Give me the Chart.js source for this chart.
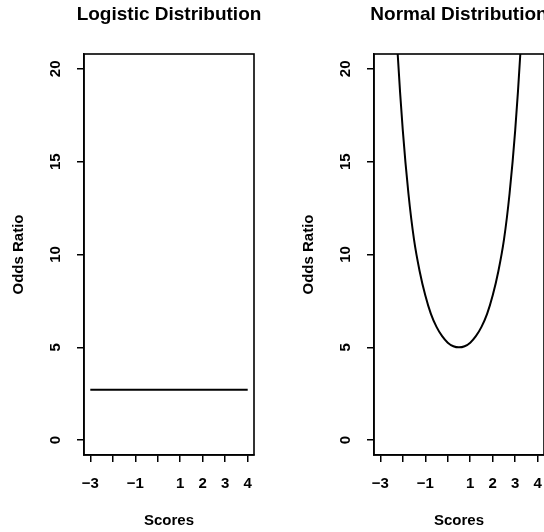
<!DOCTYPE html>
<html>
<head>
<meta charset="utf-8">
<title>Odds Ratio by Score</title>
<script src="https://cdn.jsdelivr.net/npm/chart.js@4/dist/chart.umd.min.js"></script>
<style>
  html, body { margin: 0; padding: 0; background: #fff; }
  body { position: relative; width: 544px; height: 532px; overflow: hidden; }
  .panel { position: absolute; top: 0; }
  #logisticChart { left: 0; }
  #normalChart { left: 290px; }
</style>
</head>
<body>
<canvas id="logisticChart" class="panel" width="338" height="532"></canvas>
<canvas id="normalChart" class="panel" width="338" height="532"></canvas>
<script>
'use strict';

// ── Data ──────────────────────────────────────────────────────────────────────
const xTicks = [-3, -2, -1, 0, 1, 2, 3, 4];
const xTickLabels = ['\u22123', '', '\u22121', '', '1', '2', '3', '4'];
const yTicks = [0, 5, 10, 15, 20];

// logistic: constant odds ratio across scores
const logisticScores = [-3, -2, -1, 0, 1, 2, 3, 4];
const logisticOdds = [2.72, 2.72, 2.72, 2.72, 2.72, 2.72, 2.72, 2.72];

// normal: odds ratio dips to 5 near 0.5 and climbs off the top on both sides
const normalScores = [-2.5, -2.25, -2, -1.75, -1.5, -1.25, -1, -0.75, -0.5, -0.25, 0, 0.25,
  0.5, 0.75, 1, 1.25, 1.5, 1.75, 2, 2.25, 2.5, 2.75, 3, 3.25, 3.5];
const normalOdds = [27.5, 21.3, 16.7, 13.3, 10.8, 9.1, 7.8, 6.8, 6.1, 5.6, 5.25, 5.06,
  5.0, 5.06, 5.25, 5.6, 6.1, 6.8, 7.8, 9.1, 10.8, 13.3, 16.7, 21.3, 27.5];

// axis ranges (data range padded 4% each side)
const X_MIN = -3.28, X_MAX = 4.28;
const Y_MIN = -0.8, Y_MAX = 20.8;

// ── Style ─────────────────────────────────────────────────────────────────────
const FONT = '"Liberation Sans", Arial, Helvetica, sans-serif';
const INK = '#000';
const labelFont = { family: FONT, size: 15, weight: 'bold' };

// frame around the plotting region
const plotBox = {
  id: 'plotBox',
  afterDatasetsDraw(chart) {
    const { ctx, chartArea: a } = chart;
    ctx.save();
    ctx.strokeStyle = INK;
    ctx.lineWidth = 1.6;
    ctx.strokeRect(a.left, a.top, a.right - a.left, a.bottom - a.top);
    ctx.restore();
  },
};

function toPoints(xs, ys) {
  return xs.map((x, i) => ({ x, y: ys[i] }));
}

function panelOptions(title) {
  return {
    responsive: false,
    animation: false,
    events: [],
    layout: { padding: 0 },
    plugins: {
      legend: { display: false },
      tooltip: { enabled: false },
      title: {
        display: true,
        text: title,
        color: INK,
        font: { family: FONT, size: 19, weight: 'bold' },
        padding: { top: 3, bottom: 28.2 },
      },
    },
    scales: {
      x: {
        type: 'linear',
        min: X_MIN,
        max: X_MAX,
        afterBuildTicks: s => { s.ticks = xTicks.map(v => ({ value: v })); },
        afterFit: s => { s.height = 77; },
        grid: { drawOnChartArea: false, tickLength: 7, lineWidth: 1.5, tickWidth: 1.5, tickColor: INK },
        border: { display: true, color: INK, width: 1.5 },
        ticks: {
          autoSkip: false,
          maxRotation: 0,
          padding: 13,
          color: INK,
          font: labelFont,
          callback: v => xTickLabels[xTicks.indexOf(v)] ?? '',
        },
        title: { display: true, text: 'Scores', color: INK, font: labelFont, padding: { top: 0, bottom: 2 } },
      },
      y: {
        type: 'linear',
        min: Y_MIN,
        max: Y_MAX,
        afterBuildTicks: s => { s.ticks = yTicks.map(v => ({ value: v })); },
        afterFit: s => { s.width = 84; },
        grid: { drawOnChartArea: false, tickLength: 7, lineWidth: 1.5, tickWidth: 1.5, tickColor: INK },
        border: { display: true, color: INK, width: 1.5 },
        ticks: {
          autoSkip: false,
          minRotation: 90,
          maxRotation: 90,
          crossAlign: 'center',
          padding: 13,
          color: INK,
          font: labelFont,
          callback: v => String(v),
        },
        title: { display: true, text: 'Odds Ratio', color: INK, font: labelFont, padding: { top: 10, bottom: 0 } },
      },
      // empty right margin so the title centres over the plot
      margin: {
        type: 'linear',
        position: 'right',
        display: true,
        afterFit: s => { s.width = 84; },
        grid: { display: false },
        border: { display: false },
        ticks: { display: false },
      },
    },
  };
}

function lineDataset(xs, ys) {
  return {
    data: toPoints(xs, ys),
    borderColor: INK,
    borderWidth: 2,
    pointRadius: 0,
    fill: false,
    cubicInterpolationMode: 'monotone',
  };
}

// ── Charts ────────────────────────────────────────────────────────────────────
new Chart(document.getElementById('logisticChart'), {
  type: 'line',
  data: { datasets: [lineDataset(logisticScores, logisticOdds)] },
  options: panelOptions('Logistic Distribution'),
  plugins: [plotBox],
});

new Chart(document.getElementById('normalChart'), {
  type: 'line',
  data: { datasets: [lineDataset(normalScores, normalOdds)] },
  options: panelOptions('Normal Distribution'),
  plugins: [plotBox],
});
</script>
</body>
</html>
